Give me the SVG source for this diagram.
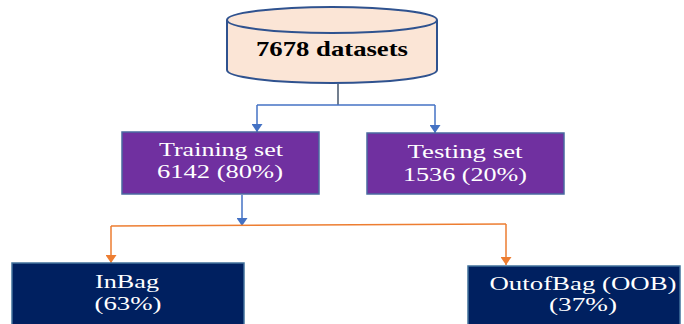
<svg xmlns="http://www.w3.org/2000/svg" width="684" height="324" viewBox="0 0 684 324">
<defs>
<style>
.txt{font-family:"Liberation Serif","Times New Roman",serif;fill:#fff;text-anchor:middle}
.purple{fill:#7030A0;stroke:#4A6AA0;stroke-width:1.5}
.navy{fill:#002060;stroke:#41719C;stroke-width:1.5}
.blue{stroke:#4472C4;stroke-width:1.5;fill:none}
.orange{stroke:#ED7D31;stroke-width:1.5;fill:none}
</style>
<marker id="ab" viewBox="0 0 8 11" refX="8" refY="5.5" markerWidth="8" markerHeight="11" markerUnits="userSpaceOnUse" orient="auto">
<path d="M0,0 L8,5.5 L0,11 Z" fill="#4472C4"/>
</marker>
<marker id="ao" viewBox="0 0 8 11" refX="8" refY="5.5" markerWidth="8" markerHeight="11" markerUnits="userSpaceOnUse" orient="auto">
<path d="M0,0 L8,5.5 L0,11 Z" fill="#ED7D31"/>
</marker>
</defs>
<rect width="684" height="324" fill="#fff"/>
<g id="connectors">
<path d="M338,84 V105" stroke="#44546A" stroke-width="1.5" fill="none"/>
<path d="M257,105 H435" class="blue"/>
<path d="M257,105 V132" class="blue" marker-end="url(#ab)"/>
<path d="M435,105 V133" class="blue" marker-end="url(#ab)"/>
<path d="M242,195 V226" class="blue" marker-end="url(#ab)"/>
<path d="M111,226 L506,224" class="orange"/>
<path d="M111,226 V263" class="orange" marker-end="url(#ao)"/>
<path d="M506,224 V265" class="orange" marker-end="url(#ao)"/>
</g>
<g id="datasets">
<path d="M227,20 V70 A105,13 0 0 0 437,70 V20" fill="#FBE5D6" stroke="#2F528F" stroke-width="2"/>
<ellipse cx="332" cy="20" rx="105" ry="13" fill="#FBE5D6" stroke="#2F528F" stroke-width="2"/>
<text x="332" y="56" font-family="Liberation Serif, Times New Roman, serif" font-weight="bold" font-size="21" fill="#000" text-anchor="middle" textLength="152" lengthAdjust="spacingAndGlyphs">7678 datasets</text>
</g>
<g id="training">
<rect x="122" y="132" width="197" height="62" class="purple"/>
<text x="221" y="156" class="txt" font-size="19" textLength="124" lengthAdjust="spacingAndGlyphs">Training set</text>
<text x="220" y="178" class="txt" font-size="19" textLength="126" lengthAdjust="spacingAndGlyphs">6142 (80%)</text>
</g>
<g id="testing">
<rect x="367" y="133" width="197" height="61" class="purple"/>
<text x="465" y="158" class="txt" font-size="19" textLength="115" lengthAdjust="spacingAndGlyphs">Testing set</text>
<text x="465" y="181" class="txt" font-size="19" textLength="124" lengthAdjust="spacingAndGlyphs">1536 (20%)</text>
</g>
<g id="inbag">
<rect x="12" y="263" width="232" height="64" class="navy"/>
<text x="127" y="288" class="txt" font-size="19" textLength="64" lengthAdjust="spacingAndGlyphs">InBag</text>
<text x="128" y="310" class="txt" font-size="19" textLength="67" lengthAdjust="spacingAndGlyphs">(63%)</text>
</g>
<g id="oob">
<rect x="468" y="266" width="212" height="61" class="navy"/>
<text x="583" y="290" class="txt" font-size="19" textLength="187" lengthAdjust="spacingAndGlyphs">OutofBag (OOB)</text>
<text x="583" y="311" class="txt" font-size="19" textLength="68" lengthAdjust="spacingAndGlyphs">(37%)</text>
</g>
</svg>
